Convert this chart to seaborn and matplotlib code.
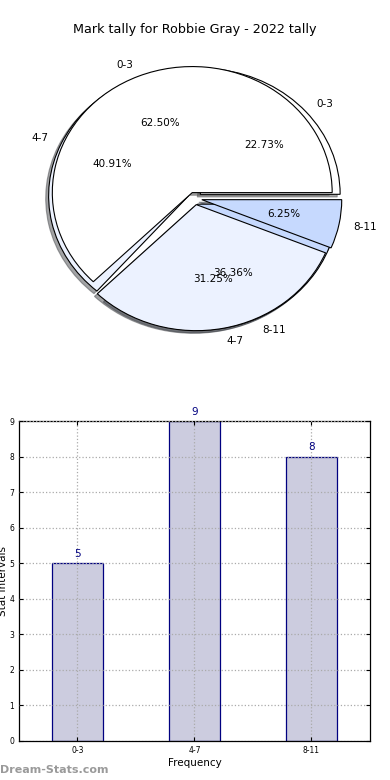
import matplotlib
matplotlib.use("Agg")
import matplotlib.pyplot as plt
import seaborn as sns
import pandas as pd

# data
intervals = ["0-3", "4-7", "8-11"]
tally_counts = [5, 9, 8]          # 22.73%, 40.91%, 36.36%
second_counts = [10, 5, 1]        # 62.50%, 31.25%, 6.25%
pie_colors = ["#ffffff", "#ecf2ff", "#c6d9fe"]

sns.set_style("white")
plt.rcParams["font.family"] = ["DejaVu Sans"]
plt.rcParams["text.color"] = "black"
plt.rcParams["axes.labelcolor"] = "black"
plt.rcParams["xtick.color"] = "black"
plt.rcParams["ytick.color"] = "black"

fig = plt.figure(figsize=(3.9, 7.8), dpi=100)

# --- pie part ---
ax1 = fig.add_axes([0.0513, 0.5436, 0.897, 0.404])
explode = [0.05, 0.05, 0.05]
shadow = {"ox": -0.015, "oy": -0.015}
for counts in (tally_counts, second_counts):
    ax1.pie(counts, labels=intervals, colors=pie_colors, explode=explode,
            autopct="%1.2f%%", shadow=shadow,
            wedgeprops={"edgecolor": "black", "linewidth": 0.8},
            textprops={"fontsize": 7.5, "color": "black"})
ax1.set_aspect("auto")
ax1.set_xlim(-1.25, 1.25)
ax1.set_ylim(-1.25, 1.25)
ax1.axis("off")

fig.text(0.5, 1 - 30 / 780, "Mark tally for Robbie Gray - 2022 tally",
         ha="center", va="center", fontsize=9.2)

# --- bar part ---
df = pd.DataFrame({"interval": intervals, "count": tally_counts})
ax2 = fig.add_axes([0.0487, 0.05, 0.9, 0.41])
sns.barplot(data=df, x="interval", y="count", ax=ax2, width=0.44,
            color="#ccccdf", edgecolor="#000080", linewidth=0.9, saturation=1)
ax2.set_ylim(0, 9)
ax2.set_xlim(-0.5, 2.5)
ax2.set_yticks(range(0, 10))
ax2.grid(True, linestyle=":", color="#aaaaaa", linewidth=0.9)
ax2.set_axisbelow(False)
for p in ax2.patches:
    p.set_zorder(1)
for spine in ax2.spines.values():
    spine.set_color("black")
    spine.set_linewidth(0.9)
ax2.tick_params(axis="both", direction="in", labelsize=5.5, length=3,
                top=True, right=True, bottom=True, left=True)
for i, v in enumerate(tally_counts):
    ax2.text(i, v + 0.12, str(v), ha="center", va="bottom",
             color="#000080", fontsize=7.5)
ax2.set_xlabel("Frequency", fontsize=7.5, labelpad=2)
ax2.set_ylabel("Stat Intervals", fontsize=7.5, labelpad=1)

fig.text(0.0, 1 - 770 / 780, "Dream-Stats.com", ha="left", va="center",
         fontsize=8, fontweight="bold", color="#9a9a9a")

fig.savefig("out.png", dpi=100)
